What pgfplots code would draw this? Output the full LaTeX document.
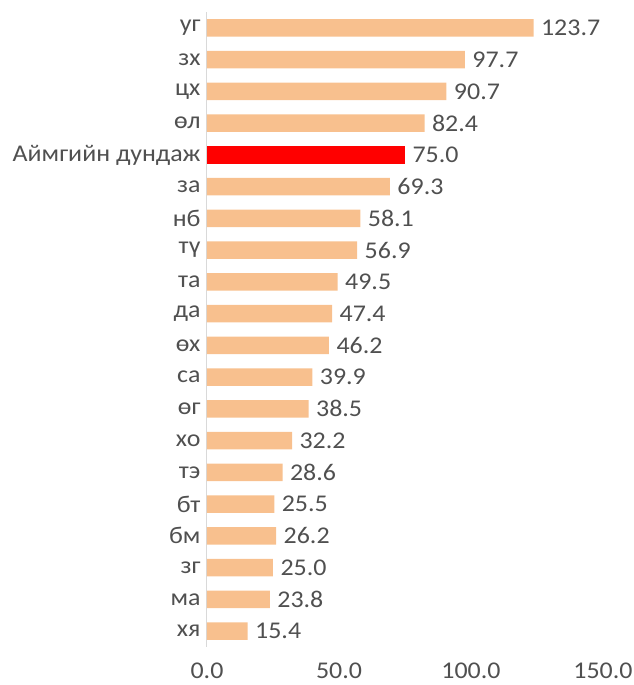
\documentclass[border=0pt]{standalone}
\usepackage{pgfplots}
\pgfplotsset{compat=1.18}
\usepackage{fontspec}
\setmainfont[FakeStretch=1.08]{Carlito}
\definecolor{barorange}{HTML}{F8C08E}
\definecolor{avgred}{HTML}{FF0000}
\definecolor{txt}{HTML}{505050}
\definecolor{axgray}{HTML}{D9D9D9}
\newcommand{\lblfont}{\fontsize{24}{28}\selectfont}

\begin{document}
\begin{tikzpicture}
\begin{axis}[
  scale only axis,
  width=396pt, height=635pt,
  xbar, bar width=0.55, bar shift=0pt,
  xmin=0, xmax=150,
  ymin=-0.5, ymax=19.5,
  y dir=reverse,
  xtick={0,50,100,150},
  ytick={0,...,19},
  yticklabels={уг,зх,цх,өл,Аймгийн дундаж,за,нб,тү,та,да,өх,са,өг,хо,тэ,бт,бм,зг,ма,хя},
  /pgf/number format/assume math mode=true,
  xticklabel={\pgfmathprintnumber[fixed,fixed zerofill,precision=1]{\tick}},
  xticklabel style={font=\lblfont, text=txt, yshift=-12pt},
  yticklabel style={font=\lblfont, text=txt, xshift=-3pt},
  major tick length=0pt,
  axis lines*=left,
  x axis line style={draw=none},
  y axis line style={draw=axgray, line width=1pt, -},
  clip=false,
  nodes near coords={\pgfmathprintnumber[fixed,fixed zerofill,precision=1,assume math mode=true]{\pgfplotspointmeta}},
  nodes near coords style={font=\lblfont, text=txt, anchor=west, xshift=4pt},
  point meta=explicit,
]
\addplot[fill=barorange, draw=none] table[meta=x] {
x y
123.7 0
97.7 1
90.7 2
82.4 3
69.3 5
58.1 6
56.9 7
49.5 8
47.4 9
46.2 10
39.9 11
38.5 12
32.2 13
28.6 14
25.5 15
26.2 16
25.0 17
23.8 18
15.4 19
};
\addplot[fill=avgred, draw=none] table[meta=x] {
x y
75.0 4
};
\end{axis}
\pgfresetboundingbox
\useasboundingbox (-207pt,-38pt) rectangle (426pt,647pt);
\end{tikzpicture}
\end{document}
